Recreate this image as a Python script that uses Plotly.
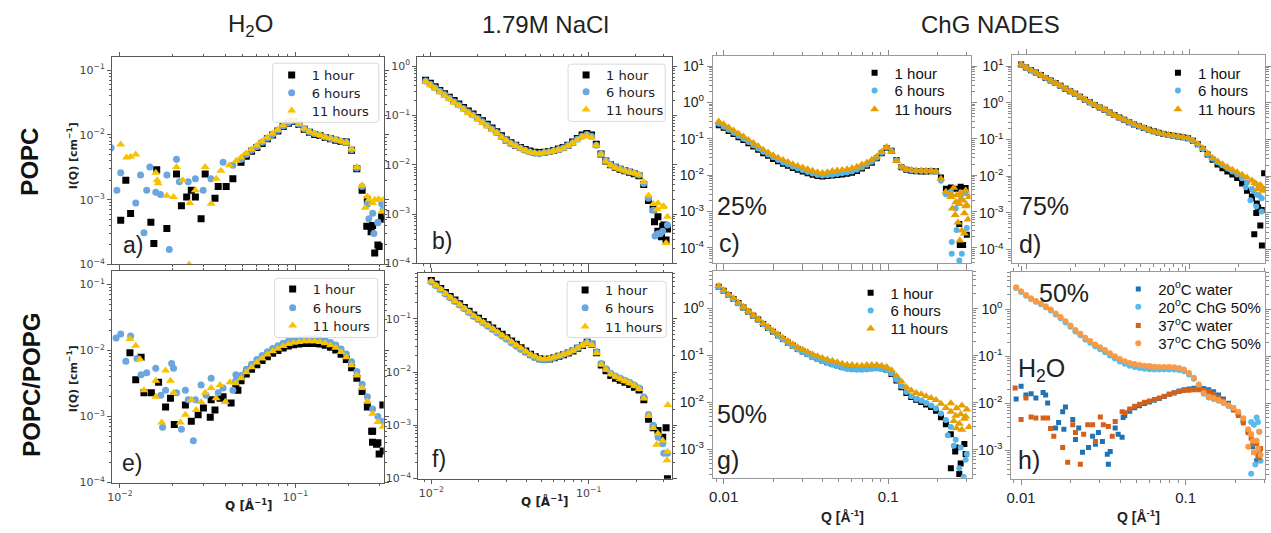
import plotly.graph_objects as go

W, H = 1271, 533

# Q sampling (1/Å): logarithmic binning shared by the reduced SANS curves
Q_GRID = [0.00933, 0.0100, 0.01072, 0.01148, 0.0123, 0.01318, 0.01413, 0.01514, 0.01622, 0.01738,
          0.01862, 0.01995, 0.02138, 0.02291, 0.02455, 0.0263, 0.02818, 0.0302, 0.03236, 0.03467,
          0.03715, 0.03981, 0.04266, 0.04571, 0.04898, 0.05248, 0.05623, 0.06026, 0.06457, 0.06918,
          0.07413, 0.07943, 0.08511, 0.0912, 0.09772, 0.1047, 0.1122, 0.1202, 0.1288, 0.138,
          0.1479, 0.1585, 0.1698, 0.182, 0.195, 0.2089, 0.2239, 0.2399, 0.257, 0.2754,
          0.2951, 0.3162]

HOURS = ["1 hour", "6 hours", "11 hours"]
TEMPS = ["20<sup>o</sup>C water", "20<sup>o</sup>C ChG 50%", "37<sup>o</sup>C water", "37<sup>o</sup>C ChG 50%"]

# ---------------- a) POPC, H2O ----------------
A_START = 24
A_BLACK = [0.0038, 0.0047, 0.0056, 0.0064, 0.0074, 0.0087, 0.0100, 0.0115, 0.0135, 0.0152,
           0.0162, 0.0145, 0.0123, 0.0110, 0.0102, 0.0098, 0.0091, 0.0087, 0.0083, 0.0079,
           0.0078, 0.0058, 0.0030, 0.0014, 0.0010, 0.00040, 0.00020, 0.00050]
A_BLUE = [0.0042, 0.0050, 0.0058, 0.0066, 0.0077, 0.0089, 0.0102, 0.0118, 0.0138, 0.0155,
          0.0164, 0.0146, 0.0125, 0.0111, 0.0104, 0.0099, 0.0092, 0.0088, 0.0084, 0.0080,
          0.0077, 0.0059, 0.0031, 0.0016, 0.00085, 0.00062, 0.00045, 0.00070]
A_GOLD = [0.0045, 0.0052, 0.006, 0.0069, 0.0079, 0.0091, 0.0105, 0.012, 0.0141, 0.0158,
          0.0166, 0.0148, 0.0126, 0.0112, 0.0105, 0.01, 0.0093, 0.0089, 0.0085, 0.0081,
          0.0076, 0.006, 0.0032, 0.00166, 0.00112, 0.00089, 0.001, 0.001]
A_BLACK_LOW_Q = [0.0101, 0.0108, 0.0115, 0.0150, 0.0156, 0.0162, 0.0185, 0.0210, 0.0224, 0.0240,
                 0.0255, 0.0269, 0.0290, 0.0306, 0.0348, 0.0363, 0.0403, 0.0440]
A_BLACK_LOW_I = [4.8e-4, 2.0e-3, 6.1e-4, 4.5e-4, 2.1e-4, 2.9e-3, 3.6e-4, 2.5e-3, 8.1e-4, 1.1e-3,
                 1.4e-3, 1.1e-3, 5.1e-4, 2.5e-3, 1.05e-3, 1.6e-3, 1.6e-3, 2.1e-3]
A_BLUE_LOW_Q = [0.0089, 0.0096, 0.0101, 0.0123, 0.0131, 0.0137, 0.0142, 0.0148, 0.0160, 0.0170,
                0.0185, 0.0191, 0.0210, 0.0218, 0.0245, 0.0269, 0.0298, 0.0330, 0.0387, 0.0440]
A_BLUE_LOW_I = [6.3e-3, 1.4e-3, 2.6e-3, 8.9e-4, 2.4e-3, 3.1e-4, 1.4e-3, 3.2e-3, 1.3e-3, 1.2e-3,
                2.4e-3, 1.7e-4, 4.2e-3, 1.9e-3, 1.9e-3, 2.1e-3, 1.4e-3, 2.1e-3, 3.8e-3, 3.4e-3]
A_GOLD_LOW_Q = [0.0101, 0.0109, 0.0115, 0.0123, 0.0160, 0.0163, 0.0165, 0.0185, 0.0202, 0.0210,
                0.0228, 0.0248, 0.0250, 0.0269, 0.0306, 0.0331, 0.0354, 0.0376, 0.0420, 0.0460]
A_GOLD_LOW_I = [7.1e-3, 4.5e-3, 4.6e-3, 5.0e-3, 2.6e-3, 2.0e-3, 1.8e-3, 1.15e-3, 1.1e-3, 3.2e-3,
                2.0e-3, 1.0e-4, 8.9e-4, 1.4e-3, 3.2e-3, 8.7e-4, 2.1e-3, 2.8e-3, 3.4e-3, 4.0e-3]
A_BLACK_EXTRA_Q = [0.255, 0.270, 0.283, 0.300, 0.310]
A_BLACK_EXTRA_I = [3.9e-4, 3.2e-4, 1.5e-4, 1.9e-4, 5.5e-4]
A_BLUE_EXTRA_Q = [0.262, 0.280, 0.295, 0.310]
A_BLUE_EXTRA_I = [5.1e-4, 3.0e-4, 4.4e-4, 8.7e-4]
A_GOLD_EXTRA_Q = [0.095, 0.250, 0.262, 0.283, 0.300, 0.310]
A_GOLD_EXTRA_I = [0.022, 7.5e-4, 1.0e-3, 1.0e-3, 1.0e-3, 6.5e-4]

# ---------------- b) POPC, 1.79M NaCl ----------------
B_BLACK = [0.52, 0.45, 0.38, 0.32, 0.275, 0.234, 0.2, 0.17, 0.145, 0.123,
           0.107, 0.091, 0.078, 0.066, 0.056, 0.047, 0.039, 0.032, 0.028, 0.025,
           0.0224, 0.0204, 0.019, 0.018, 0.0178, 0.018, 0.0186, 0.0195, 0.021, 0.0224,
           0.025, 0.029, 0.034, 0.04, 0.043, 0.04, 0.026, 0.0166, 0.012, 0.01,
           0.0089, 0.0081, 0.0076, 0.0071, 0.0066, 0.006, 0.004, 0.0019, 0.00126, 0.00089,
           0.00056, 0.0005]
B_BLUE = [0.50, 0.43, 0.365, 0.31, 0.265, 0.225, 0.19, 0.163, 0.139, 0.118,
          0.102, 0.087, 0.075, 0.063, 0.053, 0.045, 0.037, 0.031, 0.027, 0.0245,
          0.0218, 0.0198, 0.0182, 0.0172, 0.0168, 0.0175, 0.0183, 0.0192, 0.0205, 0.022,
          0.0245, 0.028, 0.033, 0.038, 0.041, 0.038, 0.025, 0.0165, 0.0122, 0.0101,
          0.009, 0.0083, 0.0077, 0.0072, 0.0068, 0.0062, 0.0042, 0.0021, 0.0012, 0.0004,
          0.00045, 0.0006]
B_GOLD = [0.48, 0.41, 0.35, 0.295, 0.25, 0.214, 0.182, 0.155, 0.132, 0.112,
          0.098, 0.083, 0.071, 0.06, 0.051, 0.044, 0.036, 0.031, 0.027, 0.024,
          0.0214, 0.0195, 0.018, 0.0174, 0.017, 0.0178, 0.018, 0.019, 0.02, 0.0214,
          0.024, 0.0275, 0.032, 0.037, 0.039, 0.0355, 0.0245, 0.0162, 0.0117, 0.0098,
          0.0087, 0.0081, 0.0076, 0.0071, 0.0068, 0.0063, 0.0045, 0.0024, 0.0016, 0.00166,
          0.0014, 0.00089]
B_BLACK_EXTRA_Q = [0.262, 0.275, 0.29, 0.30, 0.31]
B_BLACK_EXTRA_I = [7e-4, 4.5e-4, 3.5e-4, 6e-4, 3e-4]
B_BLUE_EXTRA_Q = [0.264, 0.285]
B_BLUE_EXTRA_I = [3.6e-4, 4e-4]
B_GOLD_EXTRA_Q = [0.272, 0.30, 0.31]
B_GOLD_EXTRA_I = [1.26e-3, 1.45e-3, 2.6e-4]

# ---------------- c) POPC, 25% ChG NADES ----------------
C_BLACK = [0.235, 0.2, 0.165, 0.135, 0.11, 0.092, 0.075, 0.061, 0.05, 0.04,
           0.034, 0.028, 0.024, 0.0205, 0.018, 0.0156, 0.014, 0.0126, 0.0113, 0.0103,
           0.0095, 0.0092, 0.0094, 0.0097, 0.0101, 0.0104, 0.011, 0.0117, 0.013, 0.0152,
           0.018, 0.022, 0.029, 0.04, 0.056, 0.047, 0.026, 0.0165, 0.014, 0.0132,
           0.0127, 0.0126, 0.0125, 0.0128, 0.0127, 0.0086, 0.0042, 0.0046, 0.0042, 0.0048,
           0.0044]
C_BLUE = [0.26, 0.215, 0.178, 0.146, 0.12, 0.1, 0.081, 0.066, 0.054, 0.044,
          0.037, 0.031, 0.026, 0.0222, 0.0196, 0.017, 0.0152, 0.0137, 0.0122, 0.0111,
          0.0101, 0.0097, 0.0099, 0.0103, 0.0108, 0.0112, 0.0118, 0.0126, 0.014, 0.0163,
          0.0192, 0.0232, 0.030, 0.041, 0.057, 0.046, 0.0255, 0.0168, 0.0142, 0.0134,
          0.013, 0.0129, 0.0127, 0.0129, 0.0122, 0.007, 0.003, 0.0035, 0.0012, 0.0028,
          0.0032]
C_ORANGE = [0.30, 0.25, 0.204, 0.17, 0.138, 0.115, 0.093, 0.076, 0.062, 0.05,
            0.042, 0.035, 0.030, 0.026, 0.023, 0.02, 0.0178, 0.0162, 0.0145, 0.0132,
            0.012, 0.0115, 0.012, 0.0129, 0.0135, 0.0138, 0.0145, 0.0155, 0.017, 0.0195,
            0.0224, 0.0263, 0.0324, 0.0437, 0.059, 0.045, 0.025, 0.017, 0.0145, 0.0138,
            0.0135, 0.0135, 0.0132, 0.0132, 0.0126, 0.0079, 0.0035, 0.0025, 0.0018, 0.0022,
            0.0014]
C_BLACK_EXTRA_Q = [0.27, 0.272, 0.285, 0.30]
C_BLACK_EXTRA_I = [4.5e-4, 1.2e-4, 1.2e-4, 2.3e-4]
C_BLUE_EXTRA_Q = [0.243, 0.243, 0.26, 0.27, 0.28, 0.30]
C_BLUE_EXTRA_I = [1.45e-4, 6.9e-5, 3.1e-4, 4.5e-5, 6.9e-5, 3.5e-4]
C_ORANGE_EXTRA_Q = [0.24, 0.245, 0.25, 0.255, 0.26, 0.265, 0.27, 0.272, 0.275, 0.28,
                    0.285, 0.29, 0.29, 0.295, 0.30, 0.305, 0.31]
C_ORANGE_EXTRA_I = [0.003, 0.0012, 0.0045, 0.0008, 0.0028, 0.0005, 0.0016, 1.6e-4, 0.0032, 0.0003,
                    0.002, 0.0009, 2.5e-4, 0.0038, 0.0015, 0.0006, 0.0025]

# ---------------- d) POPC, 75% ChG NADES ----------------
D_BLACK = [11.1, 9.25, 7.75, 6.75, 5.75, 4.78, 4.08, 3.48, 2.93, 2.44,
           2.08, 1.77, 1.47, 1.22, 1.04, 0.88, 0.755, 0.655, 0.545, 0.465,
           0.398, 0.348, 0.298, 0.258, 0.232, 0.208, 0.184, 0.168, 0.153, 0.143,
           0.133, 0.127, 0.121, 0.115, 0.108, 0.093, 0.074, 0.055, 0.039, 0.028,
           0.021, 0.0165, 0.0135, 0.0112, 0.0089, 0.0063, 0.004, 0.0028, 0.0018, 0.0012]
D_BLUE = [11.0, 9.2, 7.7, 6.7, 5.7, 4.75, 4.05, 3.45, 2.9, 2.42,
          2.07, 1.75, 1.46, 1.21, 1.03, 0.875, 0.75, 0.65, 0.54, 0.46,
          0.395, 0.345, 0.295, 0.256, 0.23, 0.206, 0.183, 0.167, 0.152, 0.142,
          0.132, 0.126, 0.12, 0.114, 0.107, 0.092, 0.073, 0.055, 0.04, 0.03,
          0.024, 0.0198, 0.0162, 0.0135, 0.0112, 0.0088, 0.0068, 0.0045, 0.0032, 0.0025]
D_ORANGE = [11.2, 9.3, 7.8, 6.8, 5.8, 4.8, 4.1, 3.5, 2.95, 2.45,
            2.1, 1.78, 1.48, 1.23, 1.05, 0.89, 0.76, 0.66, 0.55, 0.47,
            0.40, 0.35, 0.30, 0.26, 0.234, 0.21, 0.186, 0.17, 0.155, 0.145,
            0.135, 0.129, 0.123, 0.117, 0.11, 0.095, 0.076, 0.058, 0.042, 0.0316,
            0.0257, 0.0214, 0.0178, 0.0151, 0.0129, 0.011, 0.0093, 0.0076, 0.006, 0.0052]
D_BLACK_EXTRA_Q = [0.24, 0.248, 0.255, 0.262, 0.27, 0.276, 0.285]
D_BLACK_EXTRA_I = [2.5e-3, 2.6e-4, 1.0e-3, 1.4e-3, 4.5e-4, 1.3e-4, 0.012]
D_BLUE_EXTRA_Q = [0.22, 0.235, 0.245, 0.255, 0.265, 0.275, 0.285]
D_BLUE_EXTRA_I = [0.005, 0.0022, 0.004, 0.0015, 0.003, 0.0011, 0.0045]
D_ORANGE_EXTRA_Q = [0.25, 0.26, 0.27, 0.28]
D_ORANGE_EXTRA_I = [0.0065, 0.0045, 0.0058, 0.004]

# ---------------- e) POPC/POPG, H2O ----------------
E_START = 23
E_BLACK = [0.003, 0.0035, 0.0044, 0.0052, 0.0061, 0.0071, 0.0081, 0.0091, 0.01, 0.0109,
           0.0117, 0.0123, 0.0126, 0.0128, 0.0128, 0.0128, 0.0126, 0.012, 0.0112, 0.0102,
           0.0088, 0.0073, 0.0055, 0.0038, 0.0024, 0.0014, 0.0006, 0.0004, 0.0003]
E_BLUE = [0.0035, 0.0042, 0.0052, 0.0062, 0.0073, 0.0084, 0.0096, 0.0108, 0.0118, 0.0129,
          0.0139, 0.0145, 0.0149, 0.0152, 0.0152, 0.0152, 0.0149, 0.0142, 0.0133, 0.0122,
          0.0106, 0.0089, 0.0068, 0.0048, 0.0031, 0.002, 0.0013, 0.001, 0.00085]
E_GOLD = [0.0032, 0.0038, 0.0047, 0.0056, 0.0066, 0.0076, 0.0087, 0.0098, 0.0107, 0.0117,
          0.0126, 0.0132, 0.0135, 0.0138, 0.0138, 0.0138, 0.0135, 0.0129, 0.012, 0.011,
          0.0095, 0.0079, 0.006, 0.0042, 0.0027, 0.0017, 0.0011, 0.00083, 0.0007]
E_BLACK_LOW_Q = [0.0114, 0.0123, 0.0132, 0.0137, 0.0151, 0.0166, 0.0182, 0.0194, 0.0204, 0.0236,
                 0.0255, 0.0279, 0.0299, 0.0327, 0.0331, 0.0348, 0.0372, 0.0387, 0.043, 0.047]
E_BLACK_LOW_I = [0.0093, 0.0036, 0.0079, 0.0023, 0.0023, 0.0033, 0.0014, 0.0019, 7.6e-4, 0.0015,
                 8.5e-4, 0.00107, 0.00135, 9.8e-4, 0.0018, 0.00126, 0.0019, 0.002, 0.0016, 0.0025]
E_BLUE_LOW_Q = [0.0095, 0.0101, 0.0108, 0.0115, 0.0125, 0.0132, 0.0142, 0.0160, 0.0171, 0.0175,
                0.0182, 0.0197, 0.0202, 0.0210, 0.0224, 0.0236, 0.0245, 0.0262, 0.0269, 0.0290,
                0.0310, 0.0331, 0.0363, 0.0387, 0.0440, 0.0458]
E_BLUE_LOW_I = [0.0155, 0.0178, 0.0069, 0.0166, 0.0076, 0.0043, 0.0046, 0.0054, 0.0021, 6.9e-4,
                0.0025, 0.0064, 0.0054, 0.0023, 6.4e-4, 0.0025, 0.0018, 4.3e-4, 0.0018, 0.003,
                0.0021, 0.0038, 0.0023, 0.0027, 0.0025, 0.0043]
E_GOLD_LOW_Q = [0.0114, 0.0123, 0.0130, 0.0137, 0.0160, 0.0160, 0.0173, 0.0182, 0.0194, 0.0202,
                0.0221, 0.0236, 0.0255, 0.0272, 0.0290, 0.0306, 0.0331, 0.0353, 0.0372, 0.0398,
                0.0424]
E_GOLD_LOW_I = [0.015, 0.0118, 0.0074, 0.0025, 0.002, 0.0035, 8.1e-4, 0.005, 0.0035, 0.0023,
                8.1e-4, 0.00107, 0.0018, 0.00126, 0.00166, 0.0023, 0.0027, 0.0019, 0.003, 0.00166,
                0.0033]
E_BLACK_EXTRA_Q = [0.272, 0.275, 0.29, 0.30, 0.315]
E_BLACK_EXTRA_I = [6e-4, 4.1e-4, 3.8e-4, 2.7e-4, 1.5e-3]

# ---------------- f) POPC/POPG, 1.79M NaCl ----------------
F_START = 1
F_BLACK = [0.52, 0.44, 0.37, 0.31, 0.262, 0.224, 0.19, 0.162, 0.138, 0.117,
           0.102, 0.089, 0.077, 0.067, 0.058, 0.051, 0.044, 0.038, 0.033, 0.0285,
           0.0248, 0.0215, 0.0193, 0.0177, 0.0172, 0.0176, 0.0186, 0.0197, 0.021, 0.0226,
           0.0248, 0.0278, 0.0315, 0.036, 0.033, 0.023, 0.0135, 0.0105, 0.0086, 0.0076,
           0.007, 0.0064, 0.0058, 0.0052, 0.0046, 0.003, 0.0013, 0.0009, 0.0008, 0.0006,
           0.0001]
F_BLUE = [0.49, 0.415, 0.35, 0.29, 0.247, 0.21, 0.18, 0.153, 0.13, 0.11,
          0.096, 0.083, 0.072, 0.063, 0.054, 0.047, 0.041, 0.035, 0.0305, 0.0265,
          0.0232, 0.0205, 0.0185, 0.0172, 0.0168, 0.0174, 0.0187, 0.02, 0.0215, 0.0232,
          0.0255, 0.0285, 0.032, 0.036, 0.034, 0.024, 0.0145, 0.0115, 0.0095, 0.0084,
          0.0076, 0.007, 0.0064, 0.0057, 0.005, 0.0034, 0.0016, 0.001, 0.0006, 0.00045,
          0.0003]
F_GOLD = [0.5, 0.42, 0.355, 0.295, 0.25, 0.214, 0.182, 0.155, 0.132, 0.112,
          0.098, 0.085, 0.074, 0.065, 0.056, 0.049, 0.043, 0.037, 0.032, 0.028,
          0.0245, 0.0214, 0.0195, 0.018, 0.0178, 0.018, 0.019, 0.02, 0.0214, 0.023,
          0.025, 0.028, 0.0316, 0.035, 0.0316, 0.0224, 0.0138, 0.011, 0.0091, 0.0081,
          0.0074, 0.0068, 0.0062, 0.0055, 0.0048, 0.0032, 0.0015, 0.00089, 0.0007, 0.00052,
          0.00032]
F_BLACK_EXTRA_Q = [0.31]
F_BLACK_EXTRA_I = [9e-4]
F_BLUE_EXTRA_Q = [0.30]
F_BLUE_EXTRA_I = [3e-4]
F_GOLD_EXTRA_Q = [0.27, 0.314, 0.318]
F_GOLD_EXTRA_I = [4.3e-4, 2.2e-4, 2.4e-3]

# ---------------- g) POPC/POPG, 50% ChG NADES ----------------
G_BLACK = [2.85, 2.33, 1.9, 1.57, 1.28, 1.03, 0.84, 0.69, 0.57, 0.46,
           0.38, 0.315, 0.265, 0.22, 0.187, 0.158, 0.136, 0.12, 0.106, 0.094,
           0.085, 0.077, 0.071, 0.066, 0.061, 0.057, 0.054, 0.053, 0.052, 0.052,
           0.053, 0.054, 0.055, 0.053, 0.049, 0.04, 0.029, 0.021, 0.0158, 0.013,
           0.0113, 0.0102, 0.009, 0.0079, 0.0066, 0.0048, 0.0034, 0.0021, 0.0011, 0.0005,
           0.0008]
G_BLUE = [2.8, 2.3, 1.87, 1.55, 1.26, 1.02, 0.83, 0.68, 0.56, 0.455,
          0.375, 0.31, 0.26, 0.215, 0.183, 0.155, 0.133, 0.117, 0.103, 0.091,
          0.082, 0.074, 0.068, 0.063, 0.058, 0.054, 0.051, 0.05, 0.049, 0.049,
          0.05, 0.051, 0.052, 0.051, 0.048, 0.041, 0.03, 0.022, 0.0165, 0.0135,
          0.0118, 0.0108, 0.0097, 0.0086, 0.0074, 0.0058, 0.0042, 0.003, 0.0016, 0.0011,
          0.0006]
G_ORANGE = [2.95, 2.4, 1.95, 1.62, 1.32, 1.07, 0.87, 0.71, 0.59, 0.48,
            0.40, 0.33, 0.28, 0.234, 0.2, 0.17, 0.148, 0.132, 0.117, 0.105,
            0.095, 0.087, 0.081, 0.076, 0.071, 0.066, 0.063, 0.062, 0.06, 0.06,
            0.062, 0.062, 0.062, 0.06, 0.056, 0.048, 0.036, 0.0275, 0.021, 0.0178,
            0.0158, 0.0148, 0.0135, 0.0123, 0.0112, 0.0093, 0.0076, 0.0063, 0.0052, 0.0056,
            0.005]
G_BLACK_EXTRA_Q = [0.24, 0.255, 0.27, 0.29]
G_BLACK_EXTRA_I = [4e-4, 9e-4, 3e-4, 1.3e-3]
G_BLUE_EXTRA_Q = [0.23, 0.25, 0.27, 0.287, 0.30]
G_BLUE_EXTRA_I = [2e-3, 1.2e-3, 4e-4, 2.6e-4, 8e-4]
G_ORANGE_EXTRA_Q = [0.24, 0.25, 0.26, 0.26, 0.27, 0.28, 0.28, 0.29, 0.30, 0.31]
G_ORANGE_EXTRA_I = [0.0095, 0.004, 0.0075, 0.0028, 0.0035, 0.0085, 0.0026, 0.0045, 0.007, 0.003]

# ---------------- h) POPC/POPG, temperature series ----------------
H_WATER_START = 22
H_W20 = [0.0055, 0.0068, 0.008, 0.0089, 0.0099, 0.0107, 0.0116, 0.0126, 0.0139, 0.0155,
         0.0168, 0.0182, 0.0193, 0.0201, 0.0208, 0.021, 0.0206, 0.0195, 0.0175, 0.015,
         0.0124, 0.01, 0.0079, 0.006, 0.0041, 0.0026, 0.0015, 0.0008]
H_W37 = [0.0063, 0.0076, 0.0087, 0.0095, 0.0105, 0.0112, 0.012, 0.0129, 0.0141, 0.0155,
         0.0166, 0.0178, 0.0186, 0.019, 0.0195, 0.0195, 0.019, 0.0178, 0.0158, 0.0135,
         0.0112, 0.0091, 0.0072, 0.0055, 0.0038, 0.0024, 0.0014, 0.00079]
H_C20 = [2.8, 2.3, 1.93, 1.64, 1.43, 1.27, 1.1, 0.94, 0.77, 0.64,
         0.52, 0.42, 0.335, 0.278, 0.226, 0.192, 0.162, 0.14, 0.121, 0.103,
         0.089, 0.077, 0.069, 0.063, 0.059, 0.056, 0.054, 0.053, 0.052, 0.052,
         0.052, 0.052, 0.052, 0.051, 0.048, 0.041, 0.033, 0.024, 0.016, 0.0133,
         0.0124, 0.0113, 0.0101, 0.0088, 0.0075, 0.006, 0.0042, 0.0024, 0.0014, 0.0009]
H_C37 = [2.9, 2.4, 2.0, 1.7, 1.48, 1.32, 1.15, 0.98, 0.81, 0.68,
         0.55, 0.45, 0.36, 0.3, 0.245, 0.21, 0.178, 0.155, 0.135, 0.115,
         0.1, 0.087, 0.078, 0.072, 0.068, 0.065, 0.063, 0.062, 0.06, 0.059,
         0.059, 0.059, 0.058, 0.056, 0.052, 0.044, 0.035, 0.025, 0.0166, 0.0138,
         0.0129, 0.0117, 0.0105, 0.0091, 0.0079, 0.0066, 0.0048, 0.0028, 0.0016, 0.0011]
H_W20_LOW_Q = [0.00933, 0.0100, 0.0107, 0.0115, 0.0123, 0.0136, 0.0141, 0.0145, 0.0162, 0.0169,
               0.0179, 0.0182, 0.0186, 0.0206, 0.0214, 0.0224, 0.0236, 0.0257, 0.0272, 0.0283,
               0.0295, 0.0312, 0.0334, 0.0339, 0.0348, 0.0373, 0.0389, 0.0411, 0.0417]
H_W20_LOW_I = [0.0123, 0.023, 0.015, 0.016, 0.0129, 0.017, 0.015, 0.0102, 0.003, 0.0039,
               0.0066, 0.0028, 0.0083, 0.0045, 0.0017, 0.003, 9.1e-4, 0.00115, 0.002, 0.00135,
               0.0024, 0.00155, 8.3e-4, 5.1e-4, 9.5e-4, 0.003, 0.0022, 0.0019, 0.005]
H_W37_LOW_Q = [0.0092, 0.0100, 0.0107, 0.0115, 0.0123, 0.0136, 0.0145, 0.0151, 0.0158, 0.0179,
               0.0192, 0.0206, 0.0214, 0.0229, 0.0240, 0.0254, 0.0272, 0.0283, 0.0303, 0.0316,
               0.0339, 0.0358, 0.0373, 0.0411]
H_W37_LOW_I = [0.021, 0.0045, 0.0129, 0.0051, 0.0049, 0.0049, 0.0049, 0.0029, 0.002, 0.00115,
               5.6e-4, 0.0035, 0.0024, 5.1e-4, 0.0022, 0.0035, 0.0035, 0.00155, 0.0051, 0.0035,
               0.0032, 0.002, 0.0041, 0.0066]
H_W20_EXTRA_Q = [0.255, 0.27, 0.28]
H_W20_EXTRA_I = [1.2e-3, 6e-4, 9e-4]
H_C20_EXTRA_Q = [0.25, 0.25, 0.26, 0.265, 0.27, 0.275, 0.28, 0.285]
H_C20_EXTRA_I = [0.004, 3.2e-4, 0.0035, 5e-4, 0.005, 0.004, 0.0025, 6e-4]
H_W37_EXTRA_Q = [0.25, 0.26, 0.27, 0.28, 0.285]
H_W37_EXTRA_I = [1.8e-3, 9e-4, 1.4e-3, 7e-4, 1.1e-3]
H_C37_EXTRA_Q = [0.24, 0.25, 0.26, 0.27, 0.28, 0.285]
H_C37_EXTRA_I = [1.2e-3, 2.2e-3, 9e-4, 1.6e-3, 2.5e-3, 8e-4]


def series(start, vals, low_q=(), low_i=(), extra_q=(), extra_i=()):
    """Concatenate scattered low-Q points, a binned curve and high-Q scatter."""
    q = list(low_q) + Q_GRID[start:start + len(vals)] + list(extra_q)
    i = list(low_i) + list(vals) + list(extra_i)
    return q, i


# colours
MPL_BLACK, MPL_BLUE, MPL_GOLD = "#000000", "#6aa6df", "#f7c300"
IG_BLACK, IG_BLUE, IG_ORANGE = "#000000", "#56b4e9", "#e69f00"
H_COLORS = ["#1f73b4", "#5bbbec", "#d5601a", "#fb9a45"]

MPL_FONT = "DejaVu Sans"
SANS = "Liberation Sans"

# panel geometry in page pixels and log10 axis ranges
PANELS = [
    dict(x=(108, 382), y=(58, 268), xr=(-2.045, -0.497), yr=(-4, -0.8), style="mpl", yt=(-4, -1), xlab=False),
    dict(x=(416, 673), y=(58, 267), xr=(-2.082, -0.47), yr=(-4, 0.18), style="mpl", yt=(-4, 0), xlab=False),
    dict(x=(714, 974), y=(57, 267), xr=(-2.066, -0.5), yr=(-4.43, 1.27), style="igor", yt=(-4, 1), xlab=False),
    dict(x=(1016, 1271), y=(56, 267), xr=(-2.085, -0.54), yr=(-4.38, 1.3), style="igor", yt=(-4, 1), xlab=False),
    dict(x=(108, 382), y=(275, 489), xr=(-2.045, -0.497), yr=(-4, -0.8), style="mpl", yt=(-4, -1), xlab=True),
    dict(x=(417, 673), y=(277, 485), xr=(-2.082, -0.47), yr=(-4, -0.15), style="mpl", yt=(-4, -1), xlab=True),
    dict(x=(714, 975), y=(275, 484), xr=(-2.066, -0.494), yr=(-3.6, 0.78), style="igor", yt=(-3, 0), xlab=True),
    dict(x=(1015, 1271), y=(276, 485), xr=(-2.06, -0.518), yr=(-3.6, 0.78), style="igor", yt=(-3, 0), xlab=True),
]

# legend layout in page pixels: marker column, row centres, optional frame box
LEGENDS = [
    dict(mx=289, rows=[76, 94, 112], box=(270, 64, 377, 124)),
    dict(mx=586, rows=[76, 93, 111], box=(568, 65, 666, 123)),
    dict(mx=877, rows=[74, 92, 111], box=None),
    dict(mx=1183, rows=[74, 92, 111], box=None),
    dict(mx=290, rows=[293, 312, 330], box=(272, 282, 376, 342)),
    dict(mx=585, rows=[294, 312, 331], box=(567, 285, 667, 342)),
    dict(mx=873, rows=[297, 315, 333], box=None),
    dict(mx=1143, rows=[293, 311, 330, 348], box=None),
]

MPL_SYMBOLS = [("square", 7), ("circle", 7), ("triangle-up", 8)]
IG_SYMBOLS = [("square", 6), ("circle", 6), ("triangle-up", 8)]

PANEL_SERIES = [
    [series(A_START, A_BLACK, A_BLACK_LOW_Q, A_BLACK_LOW_I, A_BLACK_EXTRA_Q, A_BLACK_EXTRA_I),
     series(A_START, A_BLUE, A_BLUE_LOW_Q, A_BLUE_LOW_I, A_BLUE_EXTRA_Q, A_BLUE_EXTRA_I),
     series(A_START, A_GOLD, A_GOLD_LOW_Q, A_GOLD_LOW_I, A_GOLD_EXTRA_Q, A_GOLD_EXTRA_I)],
    [series(0, B_BLACK, extra_q=B_BLACK_EXTRA_Q, extra_i=B_BLACK_EXTRA_I),
     series(0, B_BLUE, extra_q=B_BLUE_EXTRA_Q, extra_i=B_BLUE_EXTRA_I),
     series(0, B_GOLD, extra_q=B_GOLD_EXTRA_Q, extra_i=B_GOLD_EXTRA_I)],
    [series(0, C_BLACK, extra_q=C_BLACK_EXTRA_Q, extra_i=C_BLACK_EXTRA_I),
     series(0, C_BLUE, extra_q=C_BLUE_EXTRA_Q, extra_i=C_BLUE_EXTRA_I),
     series(0, C_ORANGE, extra_q=C_ORANGE_EXTRA_Q, extra_i=C_ORANGE_EXTRA_I)],
    [series(0, D_BLACK, extra_q=D_BLACK_EXTRA_Q, extra_i=D_BLACK_EXTRA_I),
     series(0, D_BLUE, extra_q=D_BLUE_EXTRA_Q, extra_i=D_BLUE_EXTRA_I),
     series(0, D_ORANGE, extra_q=D_ORANGE_EXTRA_Q, extra_i=D_ORANGE_EXTRA_I)],
    [series(E_START, E_BLACK, E_BLACK_LOW_Q, E_BLACK_LOW_I, E_BLACK_EXTRA_Q, E_BLACK_EXTRA_I),
     series(E_START, E_BLUE, E_BLUE_LOW_Q, E_BLUE_LOW_I),
     series(E_START, E_GOLD, E_GOLD_LOW_Q, E_GOLD_LOW_I)],
    [series(F_START, F_BLACK, extra_q=F_BLACK_EXTRA_Q, extra_i=F_BLACK_EXTRA_I),
     series(F_START, F_BLUE, extra_q=F_BLUE_EXTRA_Q, extra_i=F_BLUE_EXTRA_I),
     series(F_START, F_GOLD, extra_q=F_GOLD_EXTRA_Q, extra_i=F_GOLD_EXTRA_I)],
    [series(0, G_BLACK, extra_q=G_BLACK_EXTRA_Q, extra_i=G_BLACK_EXTRA_I),
     series(0, G_BLUE, extra_q=G_BLUE_EXTRA_Q, extra_i=G_BLUE_EXTRA_I),
     series(0, G_ORANGE, extra_q=G_ORANGE_EXTRA_Q, extra_i=G_ORANGE_EXTRA_I)],
    [series(H_WATER_START, H_W20, H_W20_LOW_Q, H_W20_LOW_I, H_W20_EXTRA_Q, H_W20_EXTRA_I),
     series(0, H_C20, extra_q=H_C20_EXTRA_Q, extra_i=H_C20_EXTRA_I),
     series(H_WATER_START, H_W37, H_W37_LOW_Q, H_W37_LOW_I, H_W37_EXTRA_Q, H_W37_EXTRA_I),
     series(0, H_C37, extra_q=H_C37_EXTRA_Q, extra_i=H_C37_EXTRA_I)],
]

MINOR_VALS = [m * 10.0 ** e for e in range(-6, 2) for m in range(2, 10)]


def px_x(x):
    return x / W


def px_y(y):
    return 1 - y / H


def decade_ticks(lo, hi, minus):
    vals, texts = [], []
    for p in range(lo, hi + 1):
        vals.append(10.0 ** p)
        texts.append("10<sup>%s%d</sup>" % (minus if p < 0 else "", abs(p)))
    return vals, texts


def axis_style(style, dom, rng, vals, texts, show_labels, font):
    if style == "mpl":
        line, tick, tlen, mlen = "#5a5a5a", "#5a5a5a", 4, 2
    else:
        line, tick, tlen, mlen = "#9a9a9a", "#8a8a8a", 5, 3
    return dict(
        type="log", domain=dom, range=list(rng), showline=True, linecolor=line, linewidth=1,
        mirror="allticks", ticks="outside", ticklen=tlen, tickwidth=1, tickcolor=tick,
        tickmode="array", tickvals=vals, ticktext=texts, showticklabels=show_labels,
        tickfont=font, showgrid=False, zeroline=False,
        minor=dict(ticks="outside", ticklen=mlen, tickwidth=1, tickcolor=tick,
                   tickmode="array", tickvals=MINOR_VALS, showgrid=False),
    )


def rounded_box(x0, y0, x1, y1, r=3):
    X = lambda v: "%.5f" % px_x(v)
    Y = lambda v: "%.5f" % px_y(v)
    return (f"M {X(x0 + r)},{Y(y0)} L {X(x1 - r)},{Y(y0)} Q {X(x1)},{Y(y0)} {X(x1)},{Y(y0 + r)} "
            f"L {X(x1)},{Y(y1 - r)} Q {X(x1)},{Y(y1)} {X(x1 - r)},{Y(y1)} "
            f"L {X(x0 + r)},{Y(y1)} Q {X(x0)},{Y(y1)} {X(x0)},{Y(y1 - r)} "
            f"L {X(x0)},{Y(y0 + r)} Q {X(x0)},{Y(y0)} {X(x0 + r)},{Y(y0)} Z")


fig = go.Figure()
layout = dict(width=W, height=H, margin=dict(l=0, r=0, t=0, b=0),
              paper_bgcolor="white", plot_bgcolor="white")
shapes = []
legend_count = 0

for n, (panel, data, leg) in enumerate(zip(PANELS, PANEL_SERIES, LEGENDS), start=1):
    sfx = "" if n == 1 else str(n)
    mpl = panel["style"] == "mpl"
    if mpl:
        xv, xt = [0.01, 0.1], ["10<sup>\u22122</sup>", "10<sup>\u22121</sup>"]
        yv, yt = decade_ticks(panel["yt"][0], panel["yt"][1], "\u2212")
        xfont = yfont = dict(family=MPL_FONT, size=11, color="#444444")
    else:
        xv, xt = [0.01, 0.1], ["0.01", "0.1"]
        yv, yt = decade_ticks(panel["yt"][0], panel["yt"][1], "-")
        xfont = dict(family=SANS, size=15, color="#222222")
        yfont = dict(family=SANS, size=14, color="#222222")
    xa = axis_style(panel["style"], [px_x(panel["x"][0]), px_x(panel["x"][1])], panel["xr"],
                    xv, xt, panel["xlab"], xfont)
    ya = axis_style(panel["style"], [px_y(panel["y"][1]), px_y(panel["y"][0])], panel["yr"],
                    yv, yt, True, yfont)
    xa["anchor"] = "y" + sfx
    ya["anchor"] = "x" + sfx
    layout["xaxis" + sfx] = xa
    layout["yaxis" + sfx] = ya

    if leg["box"] is not None:
        shapes.append(dict(type="path", xref="paper", yref="paper", layer="above",
                           path=rounded_box(*leg["box"]),
                           fillcolor="rgba(255,255,255,0.85)",
                           line=dict(color="#dadada", width=1)))

    if n == 8:
        names = TEMPS
        styles = [("square", 5, H_COLORS[0]), ("circle", 6, H_COLORS[1]),
                  ("square", 5, H_COLORS[2]), ("circle", 6, H_COLORS[3])]
    else:
        names = HOURS
        colors = [MPL_BLACK, MPL_BLUE, MPL_GOLD] if mpl else [IG_BLACK, IG_BLUE, IG_ORANGE]
        syms = MPL_SYMBOLS if mpl else IG_SYMBOLS
        styles = [(s, z, c) for (s, z), c in zip(syms, colors)]

    leg_font = (dict(family=MPL_FONT, size=13, color="#222222") if mpl
                else dict(family=SANS, size=15, color="#111111"))

    for name, (q, i), (sym, size, col), row in zip(names, data, styles, leg["rows"]):
        legend_count += 1
        lid = "legend" if legend_count == 1 else "legend%d" % legend_count
        layout[lid] = dict(x=px_x(leg["mx"] - 20), y=px_y(row), xanchor="left", yanchor="middle",
                           bgcolor="rgba(0,0,0,0)", borderwidth=0, font=leg_font)
        fig.add_trace(go.Scatter(
            x=q, y=i, mode="markers", name=name,
            marker=dict(symbol=sym, size=size, color=col, line=dict(width=0)),
            xaxis="x" + sfx, yaxis="y" + sfx, legend=lid,
            cliponaxis=True, showlegend=True,
        ))


def text(x, y, s, size, family=SANS, bold=False, angle=0, xanchor="center", color="#222222"):
    if bold:
        s = "<b>" + s + "</b>"
    return dict(x=px_x(x), y=px_y(y), xref="paper", yref="paper", text=s, showarrow=False,
                xanchor=xanchor, yanchor="middle", textangle=angle,
                font=dict(family=family, size=size, color=color))


annotations = [
    # column headers
    text(248, 26, "H<sub>2</sub>O", 24),
    text(545, 25, "1.79M NaCl", 24),
    text(994, 25, "ChG NADES", 24),
    # row headers
    text(25, 164, "POPC", 24, bold=True, angle=-90, color="#111111"),
    text(27, 390, "POPC/POPG", 24, bold=True, angle=-90, color="#111111"),
    # axis titles
    text(69, 158, "I(Q) [cm<sup>\u22121</sup>]", 11, family=MPL_FONT, bold=True, angle=-90),
    text(69, 384, "I(Q) [cm<sup>\u22121</sup>]", 11, family=MPL_FONT, bold=True, angle=-90),
    text(246, 512, "Q [\u00c5<sup>\u22121</sup>]", 12, family=MPL_FONT, bold=True),
    text(545, 508, "Q [\u00c5<sup>\u22121</sup>]", 12, family=MPL_FONT, bold=True),
    text(845, 523, "Q [\u00c5<sup>-1</sup>]", 14, bold=True),
    text(1143, 523, "Q [\u00c5<sup>-1</sup>]", 14, bold=True),
    # panel letters and composition labels
    text(117, 248, "a)", 23, xanchor="left"),
    text(429, 244, "b)", 23, xanchor="left"),
    text(716, 209, "25%", 25, xanchor="left"),
    text(718, 246, "c)", 25, xanchor="left"),
    text(1021, 209, "75%", 25, xanchor="left"),
    text(1021, 247, "d)", 25, xanchor="left"),
    text(116, 469, "e)", 23, xanchor="left"),
    text(429, 465, "f)", 23, xanchor="left"),
    text(716, 420, "50%", 25, xanchor="left"),
    text(716, 466, "g)", 25, xanchor="left"),
    text(1041, 297, "50%", 25, xanchor="left"),
    text(1020, 375, "H<sub>2</sub>O", 25, xanchor="left"),
    text(1020, 466, "h)", 25, xanchor="left"),
]
layout["annotations"] = annotations
layout["shapes"] = shapes

fig.update_layout(**layout)
fig.write_html("out.html")
